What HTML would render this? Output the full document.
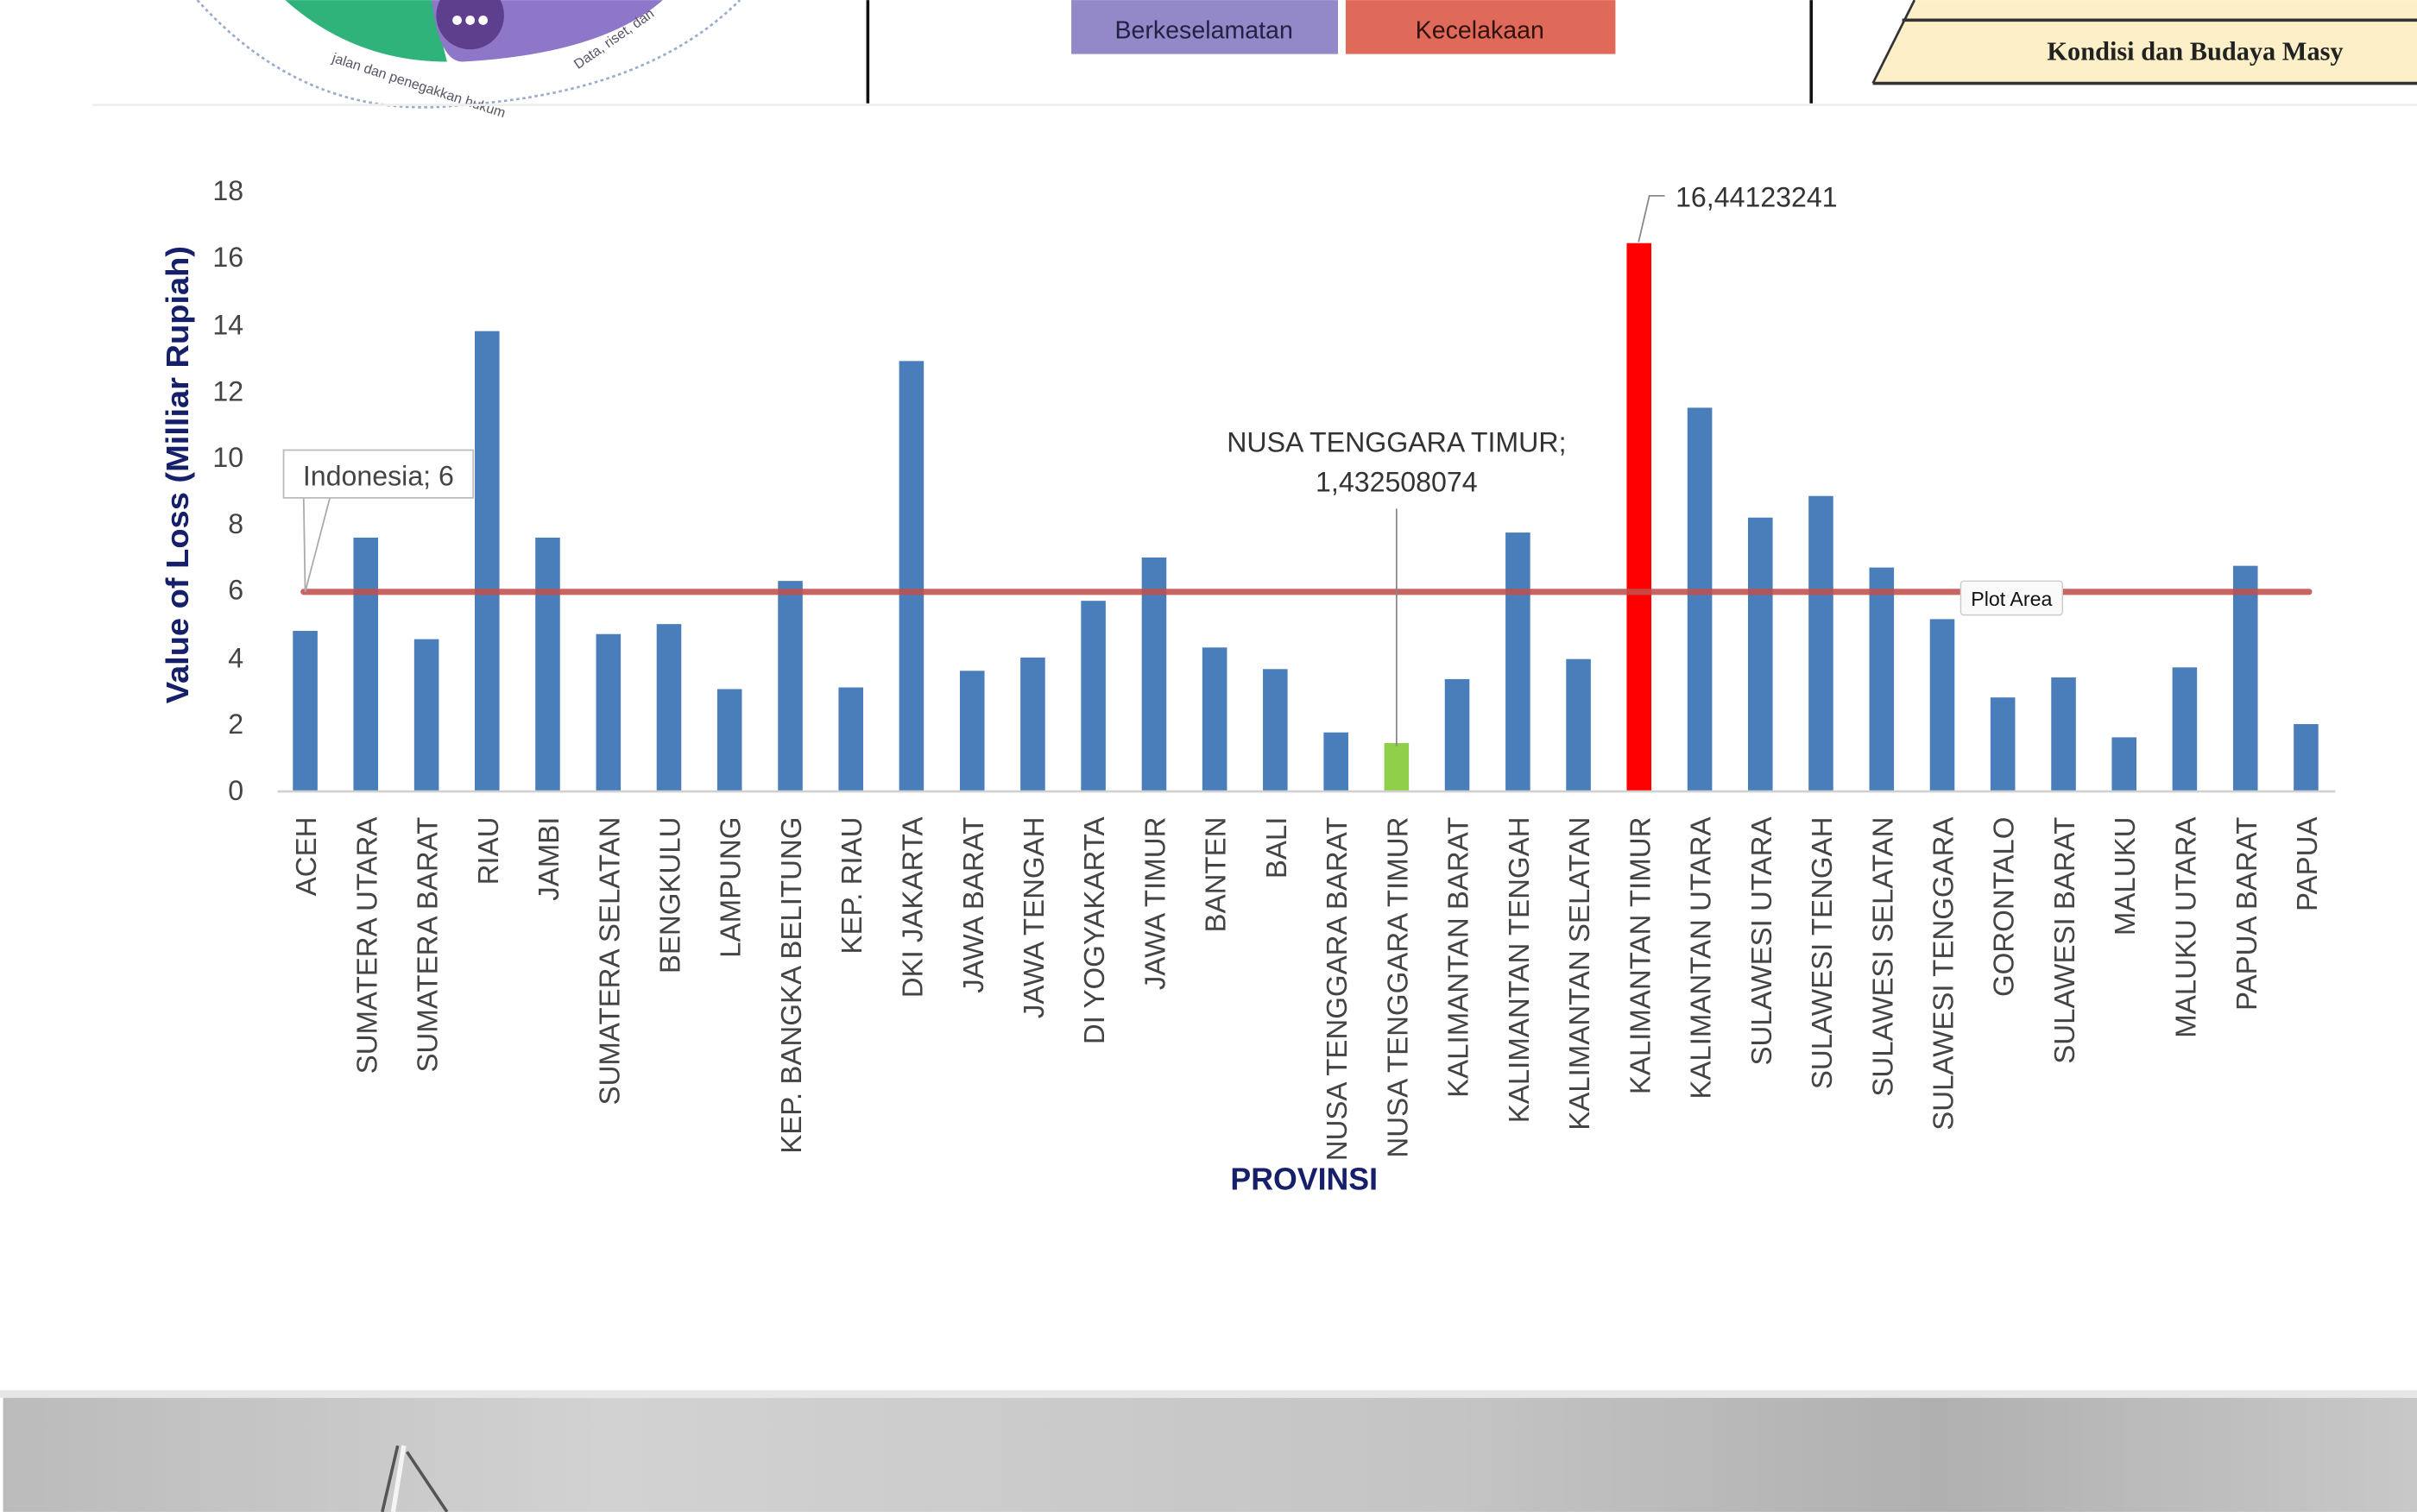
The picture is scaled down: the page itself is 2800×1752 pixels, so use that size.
<!DOCTYPE html>
<html><head><meta charset="utf-8"><style>
html,body{margin:0;padding:0;background:#fff;}
svg{display:block}
text{font-family:"Liberation Sans",sans-serif;}
text.serif{font-family:"Liberation Serif",serif;}
</style></head><body>
<svg width="2800" height="1752" viewBox="0 0 1568 981" xmlns="http://www.w3.org/2000/svg">
<rect width="1568" height="981" fill="#fff"/>
<!-- header -->
<g>
<path d="M128 0 Q200 80 300 68 Q420 60 480 0" fill="none" stroke="#9aaccc" stroke-width="1.5" stroke-dasharray="2 2"/>
<path d="M185 0 Q230 40 290 40 L280 0 Z" fill="#2fb37a"/>
<path d="M280 0 Q285 40 300 40 Q390 35 430 0 Z" fill="#8e77c8"/>
<circle cx="305" cy="10" r="22" fill="#5e3f8e"/>
<text x="305" y="17" font-size="14" fill="#fff" text-anchor="middle" font-weight="bold">●●●</text>
<text x="215" y="40" font-size="9" fill="#556" transform="rotate(18 215 40)">jalan dan penegakkan hukum</text>
<text x="375" y="45" font-size="9" fill="#556" transform="rotate(-35 375 45)">Data, riset, dan</text>
<line x1="563" y1="0" x2="563" y2="67" stroke="#111" stroke-width="2"/>
<line x1="1175" y1="0" x2="1175" y2="67" stroke="#111" stroke-width="2"/>
<rect x="695" y="0" width="173" height="35" fill="#9389c8"/>
<rect x="873" y="0" width="175" height="35" fill="#e06a5a"/>
<text x="781" y="25" font-size="16" fill="#222244" text-anchor="middle">Berkeselamatan</text>
<text x="960" y="25" font-size="16" fill="#331111" text-anchor="middle">Kecelakaan</text>
<polygon points="1242,0 1568,0 1568,54 1215,54" fill="#fdf0c8"/>
<line x1="1234" y1="13" x2="1568" y2="13" stroke="#333" stroke-width="2"/>
<line x1="1215" y1="54" x2="1568" y2="54" stroke="#333" stroke-width="2"/>
<line x1="1242" y1="0" x2="1215" y2="54" stroke="#333" stroke-width="1.5"/>
<text class="serif" x="1328" y="39" font-size="17" fill="#222" font-weight="bold">Kondisi dan Budaya Masy</text>
<line x1="60" y1="68" x2="1568" y2="68" stroke="#eee" stroke-width="1.5"/>
</g>
<!-- y axis labels -->
<g font-size="18" fill="#444" text-anchor="end">
<text x="158" y="519">0</text><text x="158" y="476">2</text><text x="158" y="433">4</text><text x="158" y="389">6</text><text x="158" y="346">8</text><text x="158" y="303">10</text><text x="158" y="260">12</text><text x="158" y="217">14</text><text x="158" y="173">16</text><text x="158" y="130">18</text>
</g>
<text transform="translate(122 308) rotate(-90)" font-size="20" font-weight="bold" fill="#16206a" text-anchor="middle" textLength="297" lengthAdjust="spacingAndGlyphs">Value of Loss (Milliar Rupiah)</text>
<!-- bars -->
<g fill="#4a7ebb">
<rect x="190" y="409.3" width="16" height="103.7"/>
<rect x="229.3" y="348.8" width="16" height="164.2"/>
<rect x="268.7" y="414.7" width="16" height="98.3"/>
<rect x="308" y="214.8" width="16" height="298.2"/>
<rect x="347.3" y="348.8" width="16" height="164.2"/>
<rect x="386.7" y="411.4" width="16" height="101.6"/>
<rect x="426" y="404.9" width="16" height="108.1"/>
<rect x="465.3" y="447.1" width="16" height="65.9"/>
<rect x="504.7" y="376.9" width="16" height="136.1"/>
<rect x="544" y="446" width="16" height="67"/>
<rect x="583.3" y="234.2" width="16" height="278.8"/>
<rect x="622.7" y="435.2" width="16" height="77.8"/>
<rect x="662" y="426.6" width="16" height="86.4"/>
<rect x="701.3" y="389.8" width="16" height="123.2"/>
<rect x="740.7" y="361.7" width="16" height="151.3"/>
<rect x="780" y="420.1" width="16" height="92.9"/>
<rect x="819.3" y="434.1" width="16" height="78.9"/>
<rect x="858.7" y="475.2" width="16" height="37.8"/>
<rect x="898" y="482.1" width="16" height="30.9" fill="#8fcf4a"/>
<rect x="937.3" y="440.6" width="16" height="72.4"/>
<rect x="976.7" y="345.5" width="16" height="167.5"/>
<rect x="1016" y="427.6" width="16" height="85.4"/>
<rect x="1055.3" y="157.7" width="16" height="355.3" fill="#ff0000"/>
<rect x="1094.7" y="264.5" width="16" height="248.5"/>
<rect x="1134" y="335.8" width="16" height="177.2"/>
<rect x="1173.3" y="321.8" width="16" height="191.2"/>
<rect x="1212.7" y="368.2" width="16" height="144.8"/>
<rect x="1252" y="401.7" width="16" height="111.3"/>
<rect x="1291.3" y="452.5" width="16" height="60.5"/>
<rect x="1330.7" y="439.5" width="16" height="73.5"/>
<rect x="1370" y="478.4" width="16" height="34.6"/>
<rect x="1409.3" y="433" width="16" height="80"/>
<rect x="1448.7" y="367.1" width="16" height="145.9"/>
<rect x="1488" y="469.8" width="16" height="43.2"/>
</g>
<line x1="180" y1="513.5" x2="1515" y2="513.5" stroke="#d0d0d0" stroke-width="1.5"/>
<line x1="197" y1="384" x2="1498" y2="384" stroke="#c0504d" stroke-width="4" stroke-opacity="0.88" stroke-linecap="round"/>
<!-- category labels -->
<g font-size="18.5" fill="#444" text-anchor="end">
<text transform="translate(205 530) rotate(-90)">ACEH</text>
<text transform="translate(244.3 530) rotate(-90)">SUMATERA UTARA</text>
<text transform="translate(283.7 530) rotate(-90)">SUMATERA BARAT</text>
<text transform="translate(323 530) rotate(-90)">RIAU</text>
<text transform="translate(362.3 530) rotate(-90)">JAMBI</text>
<text transform="translate(401.7 530) rotate(-90)">SUMATERA SELATAN</text>
<text transform="translate(441 530) rotate(-90)">BENGKULU</text>
<text transform="translate(480.3 530) rotate(-90)">LAMPUNG</text>
<text transform="translate(519.7 530) rotate(-90)">KEP. BANGKA BELITUNG</text>
<text transform="translate(559 530) rotate(-90)">KEP. RIAU</text>
<text transform="translate(598.3 530) rotate(-90)">DKI JAKARTA</text>
<text transform="translate(637.7 530) rotate(-90)">JAWA BARAT</text>
<text transform="translate(677 530) rotate(-90)">JAWA TENGAH</text>
<text transform="translate(716.3 530) rotate(-90)">DI YOGYAKARTA</text>
<text transform="translate(755.7 530) rotate(-90)">JAWA TIMUR</text>
<text transform="translate(795 530) rotate(-90)">BANTEN</text>
<text transform="translate(834.3 530) rotate(-90)">BALI</text>
<text transform="translate(873.7 530) rotate(-90)">NUSA TENGGARA BARAT</text>
<text transform="translate(913 530) rotate(-90)">NUSA TENGGARA TIMUR</text>
<text transform="translate(952.3 530) rotate(-90)">KALIMANTAN BARAT</text>
<text transform="translate(991.7 530) rotate(-90)">KALIMANTAN TENGAH</text>
<text transform="translate(1031 530) rotate(-90)">KALIMANTAN SELATAN</text>
<text transform="translate(1070.3 530) rotate(-90)">KALIMANTAN TIMUR</text>
<text transform="translate(1109.7 530) rotate(-90)">KALIMANTAN UTARA</text>
<text transform="translate(1149 530) rotate(-90)">SULAWESI UTARA</text>
<text transform="translate(1188.3 530) rotate(-90)">SULAWESI TENGAH</text>
<text transform="translate(1227.7 530) rotate(-90)">SULAWESI SELATAN</text>
<text transform="translate(1267 530) rotate(-90)">SULAWESI TENGGARA</text>
<text transform="translate(1306.3 530) rotate(-90)">GORONTALO</text>
<text transform="translate(1345.7 530) rotate(-90)">SULAWESI BARAT</text>
<text transform="translate(1385 530) rotate(-90)">MALUKU</text>
<text transform="translate(1424.3 530) rotate(-90)">MALUKU UTARA</text>
<text transform="translate(1463.7 530) rotate(-90)">PAPUA BARAT</text>
<text transform="translate(1503 530) rotate(-90)">PAPUA</text>
</g>
<text x="846" y="772" font-size="20" font-weight="bold" fill="#16206a" text-anchor="middle">PROVINSI</text>
<!-- callouts -->
<path d="M197 323 L198 384 L214 323" fill="none" stroke="#aaa" stroke-width="1"/>
<rect x="184" y="292" width="123" height="31" fill="#fff" stroke="#bbb" stroke-width="1"/>
<text x="245.5" y="315" font-size="18" fill="#444" text-anchor="middle">Indonesia; 6</text>
<path d="M1063 157 L1070 127 L1080 127" fill="none" stroke="#888" stroke-width="1"/>
<text x="1087" y="134" font-size="18" fill="#333">16,44123241</text>
<line x1="906" y1="330" x2="906" y2="484" stroke="#888" stroke-width="1"/>
<text x="906" y="293" font-size="18" fill="#333" text-anchor="middle">NUSA TENGGARA TIMUR;</text>
<text x="906" y="319" font-size="18" fill="#333" text-anchor="middle">1,432508074</text>
<rect x="1272" y="377" width="66" height="22" rx="2" fill="#fafafa" stroke="#ccc" stroke-width="0.8"/>
<text x="1305" y="393" font-size="13" fill="#111" text-anchor="middle">Plot Area</text>
<!-- bottom photo -->
<rect x="0" y="902" width="1568" height="5" fill="#e6e6e6"/>
<defs><linearGradient id="g" x1="0" x2="1" y1="0" y2="0">
<stop offset="0" stop-color="#bbb"/><stop offset="0.25" stop-color="#d2d2d2"/><stop offset="0.6" stop-color="#c4c4c4"/><stop offset="0.8" stop-color="#b0b0b0"/><stop offset="1" stop-color="#c8c8c8"/></linearGradient></defs>
<rect x="2" y="907" width="1566" height="74" fill="url(#g)"/>
<path d="M258 938 L248 981 M264 942 L290 981" stroke="#555" stroke-width="2" fill="none"/>
<path d="M262 938 L255 981" stroke="#f4f4f4" stroke-width="3"/>
</svg>
</body></html>
